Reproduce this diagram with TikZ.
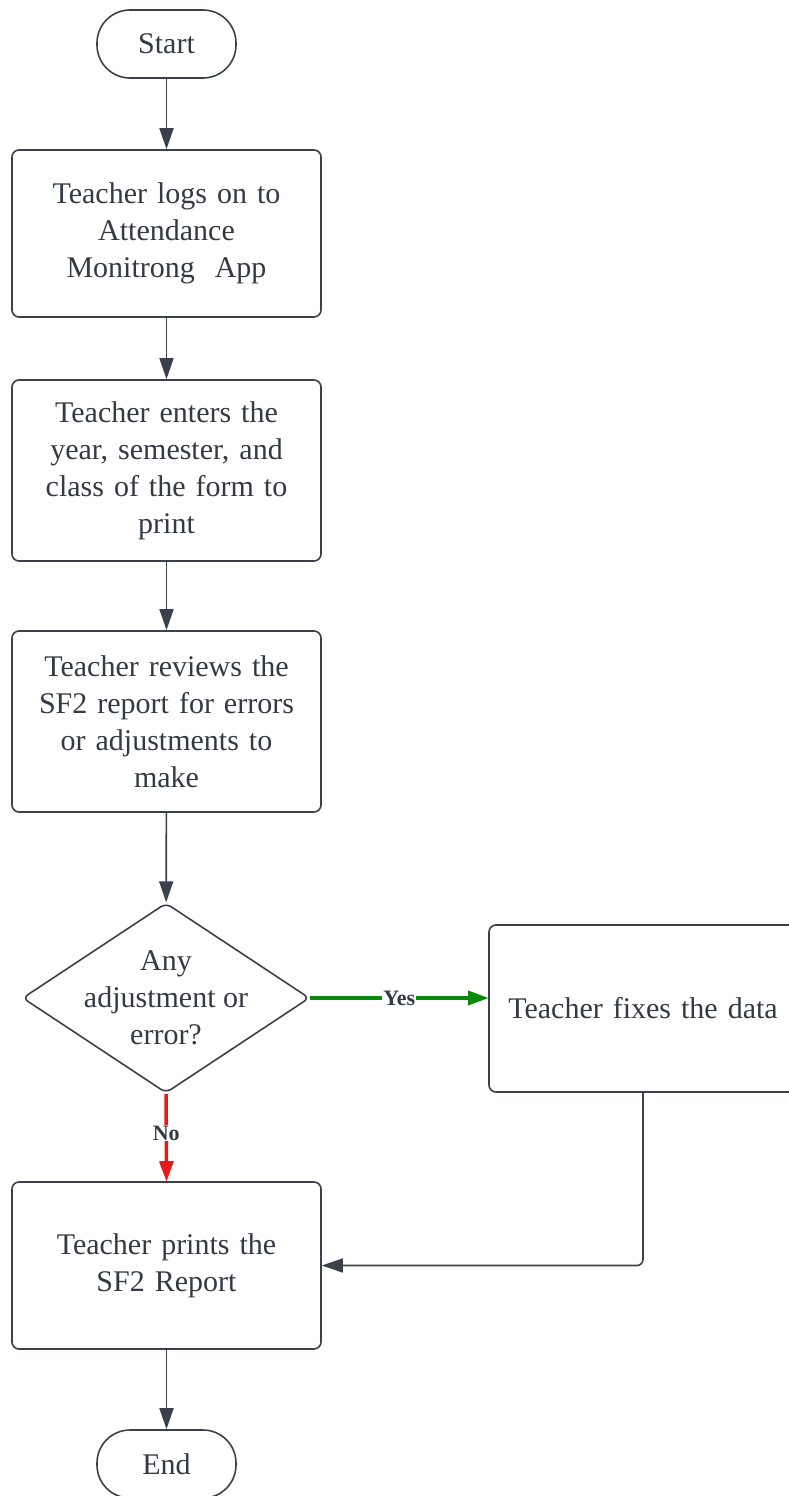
\documentclass[tikz,border=0pt]{standalone}
\usepackage{fontspec}
\setmainfont{Liberation Serif}
\usetikzlibrary{shapes.geometric,arrows.meta}
\definecolor{ink}{HTML}{3A414A}
\definecolor{txt}{HTML}{333A44}
\definecolor{yesgreen}{HTML}{0A8A0A}
\definecolor{nored}{HTML}{E31B1B}
\begin{document}
\begin{tikzpicture}[x=1pt,y=-1pt,
  base/.style={draw=ink, line width=1.6pt, text=txt, align=center,
    font=\fontsize{30}{37}\selectfont, inner sep=0pt},
  term/.style={base, rectangle, rounded corners=33pt,
    minimum width=139pt, minimum height=68pt},
  proc/.style={base, rectangle, rounded corners=7pt,
    minimum width=309pt, text width=292pt},
  decision/.style={draw=ink, line width=1.6pt, diamond, rounded corners=6pt,
    inner sep=0pt, minimum width=287pt, minimum height=190pt},
  flow/.style={draw=ink, line width=1.6pt,
    -{Triangle[length=21pt,width=14pt]}},
  yesflow/.style={flow, draw=yesgreen, line width=3.5pt,
    -{Triangle[length=20pt,width=15pt,fill=yesgreen,line width=0pt]}},
  noflow/.style={flow, draw=nored, line width=3.5pt,
    -{Triangle[length=20pt,width=15pt,fill=nored,line width=0pt]}},
  tag/.style={fill=white, text=txt, inner sep=1pt,
    font=\bfseries\fontsize{22}{24}\selectfont}]

\useasboundingbox (0,0) rectangle (789,1496);
\clip (0,0) rectangle (789,1496);

% main column
\node[term] (start) at (166.5,44) {Start};
\node[proc, minimum height=167pt] (login) at (166.5,233.5)
  {Teacher logs on to\\Attendance\\Monitrong~ App};
\node[proc, minimum height=181pt] (enter) at (166.5,470.5)
  {Teacher enters the\\year, semester, and\\class of the form to\\print};
\node[proc, minimum height=181pt] (review) at (166.5,721.5)
  {Teacher reviews the\\SF2 report for errors\\or adjustments to\\make};
\node[decision] (check) at (166,998) {};
\node[text=txt, align=center, font=\fontsize{30}{37}\selectfont]
  (checktext) at (check.center) {Any\\adjustment or\\error?};
\node[proc, minimum height=167pt] (print) at (166.5,1265.5)
  {Teacher prints the\\SF2 Report};
\node[term] (stop) at (166.5,1464) {End};

% correction branch
\node[proc, minimum width=308pt, minimum height=167pt] (fix) at (643,1008.5)
  {Teacher fixes the data};

% connectors
\draw[flow] (start) -- (login);
\draw[flow] (login) -- (enter);
\draw[flow] (enter) -- (review);
\draw[flow] (review) -- (check);
\draw[yesflow] (check.east) -- (check.east -| fix.west)
  node[tag, pos=0.5] {Yes};
\draw[noflow] (check.south) -- (print.north)
  node[tag, pos=0.45] {No};
\draw[flow, rounded corners=6pt] (fix.south) |- (print.east);
\draw[flow] (print) -- (stop);
\end{tikzpicture}
\end{document}
